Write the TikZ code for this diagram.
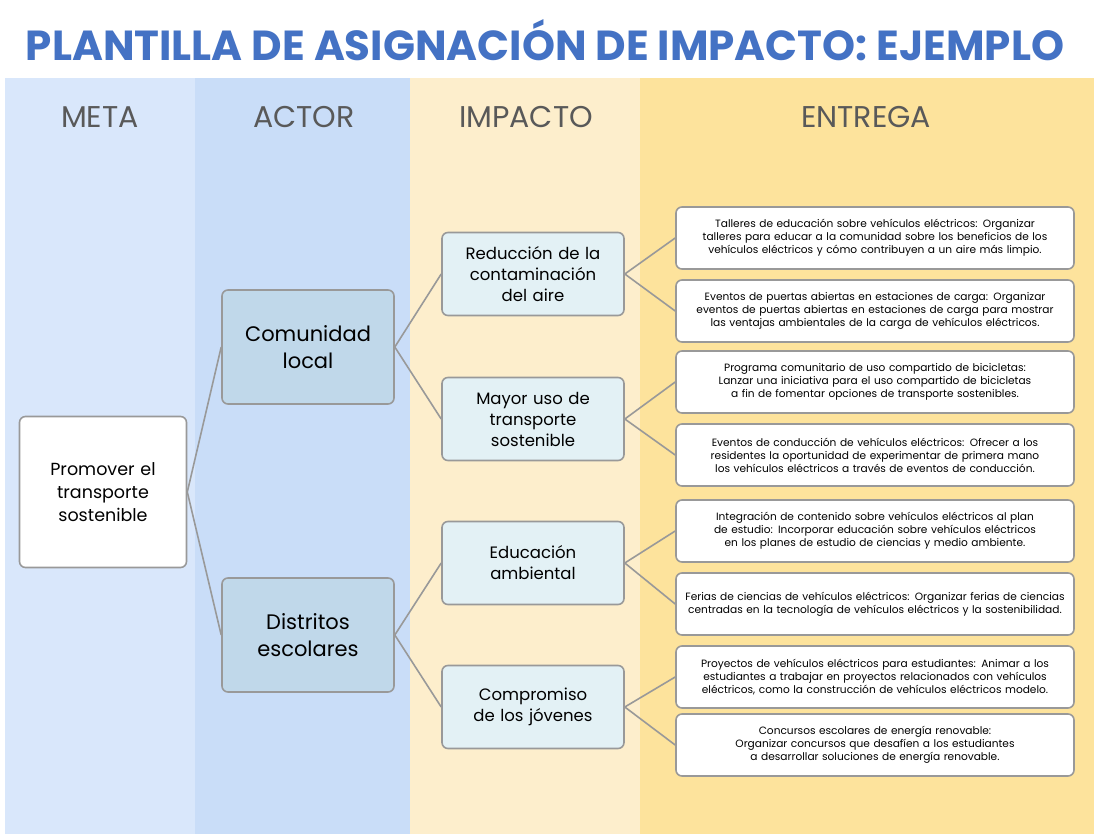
\documentclass[tikz,border=0pt]{standalone}
\usepackage{fontspec}
\setmainfont{Poppins}
\usetikzlibrary{positioning}
\definecolor{titleblue}{HTML}{4472C4}
\definecolor{metabg}{HTML}{D9E7FB}
\definecolor{actorbg}{HTML}{C9DDF8}
\definecolor{impactbg}{HTML}{FDEECC}
\definecolor{deliverbg}{HTML}{FDE39C}
\definecolor{actorfill}{HTML}{C0D8EA}
\definecolor{impactfill}{HTML}{E3F1F5}
\definecolor{edgegray}{HTML}{999999}
\hyphenpenalty=10000
\exhyphenpenalty=10000

\begin{document}
\begin{tikzpicture}[x=1pt, y=-1pt,
    box/.style={rectangle, rounded corners=6pt, draw=edgegray, line width=1.6pt, align=center},
    goalbox/.style={box, fill=white, minimum width=167pt, minimum height=151pt, text width=130pt, font=\fontsize{17.5}{23}\selectfont},
    actorbox/.style={box, fill=actorfill, minimum width=172pt, minimum height=114pt, text width=150pt, font=\fontsize{21}{27}\selectfont},
    impactbox/.style={box, fill=impactfill, minimum width=182pt, minimum height=83pt, text width=172pt, font=\fontsize{16.5}{21}\selectfont},
    deliverbox/.style={box, fill=white, minimum width=398pt, minimum height=62pt, text width=388pt, font=\fontsize{10.6}{13}\selectfont},
    link/.style={draw=edgegray, line width=1.6pt},
    header/.style={font=\fontsize{30}{34}\selectfont, text=black!65}]

    % Background
    \useasboundingbox (0,0) rectangle (1094,834);
    \fill[white] (0,0) rectangle (1094,834);
    \fill[metabg] (5,78) rectangle (195,834);
    \fill[actorbg] (195,78) rectangle (410,834);
    \fill[impactbg] (410,78) rectangle (640,834);
    \fill[deliverbg] (640,78) rectangle (1094,834);

    \node[font=\fontsize{42}{46}\selectfont\bfseries, text=titleblue] (title) at (545,40) {PLANTILLA DE ASIGNACIÓN DE IMPACTO: EJEMPLO};
    \node[header] (hmeta) at (100,117) {META};
    \node[header] (hactor) at (304,117) {ACTOR};
    \node[header] (himpact) at (526,117) {IMPACTO};
    \node[header] (hdeliver) at (866,117) {ENTREGA};

    % Goal and actors
    \node[goalbox] (goal) at (103,492) {Promover el transporte sostenible};
    \node[actorbox] (actor1) at (308,347) {Comunidad local};
    \node[actorbox] (actor2) at (308,635) {Distritos escolares};

    % Impacts
    \node[impactbox] (imp1) at (533,274) {Reducción de la contaminación del aire};
    \node[impactbox] (imp2) at (533,419) {Mayor uso de transporte sostenible};
    \node[impactbox] (imp3) at (533,563) {Educación ambiental};
    \node[impactbox] (imp4) at (533,707) {Compromiso de los jóvenes};

    % Deliverables
    \node[deliverbox] (del1) at (875,238) {Talleres de educación sobre vehículos eléctricos: Organizar talleres para educar a la comunidad sobre los beneficios de los vehículos eléctricos y cómo contribuyen a un aire más limpio.};
    \node[deliverbox] (del2) at (875,311) {Eventos de puertas abiertas en estaciones de carga: Organizar eventos de puertas abiertas en estaciones de carga para mostrar las ventajas ambientales de la carga de vehículos eléctricos.};
    \node[deliverbox] (del3) at (875,382) {Programa comunitario de uso compartido de bicicletas: Lanzar una iniciativa para el uso compartido de bicicletas a fin de fomentar opciones de transporte sostenibles.};
    \node[deliverbox] (del4) at (875,455) {Eventos de conducción de vehículos eléctricos: Ofrecer a los residentes la oportunidad de experimentar de primera mano los vehículos eléctricos a través de eventos de conducción.};
    \node[deliverbox] (del5) at (875,531) {Integración de contenido sobre vehículos eléctricos al plan de estudio: Incorporar educación sobre vehículos eléctricos en los planes de estudio de ciencias y medio ambiente.};
    \node[deliverbox] (del6) at (875,604) {Ferias de ciencias de vehículos eléctricos: Organizar ferias de ciencias centradas en la tecnología de vehículos eléctricos y la sostenibilidad.};
    \node[deliverbox] (del7) at (875,677) {Proyectos de vehículos eléctricos para estudiantes: Animar a los estudiantes a trabajar en proyectos relacionados con vehículos eléctricos, como la construcción de vehículos eléctricos modelo.};
    \node[deliverbox] (del8) at (875,745) {Concursos escolares de energía renovable: Organizar concursos que desafíen a los estudiantes a desarrollar soluciones de energía renovable.};

    % Connectors
    \draw[link] (goal.east) -- (actor1.west);
    \draw[link] (goal.east) -- (actor2.west);
    \draw[link] (actor1.east) -- (imp1.west);
    \draw[link] (actor1.east) -- (imp2.west);
    \draw[link] (actor2.east) -- (imp3.west);
    \draw[link] (actor2.east) -- (imp4.west);
    \foreach \i/\a/\b in {1/1/2, 2/3/4, 3/5/6, 4/7/8} {
        \draw[link] (imp\i.east) -- (del\a.west);
        \draw[link] (imp\i.east) -- (del\b.west);
    }
\end{tikzpicture}
\end{document}
